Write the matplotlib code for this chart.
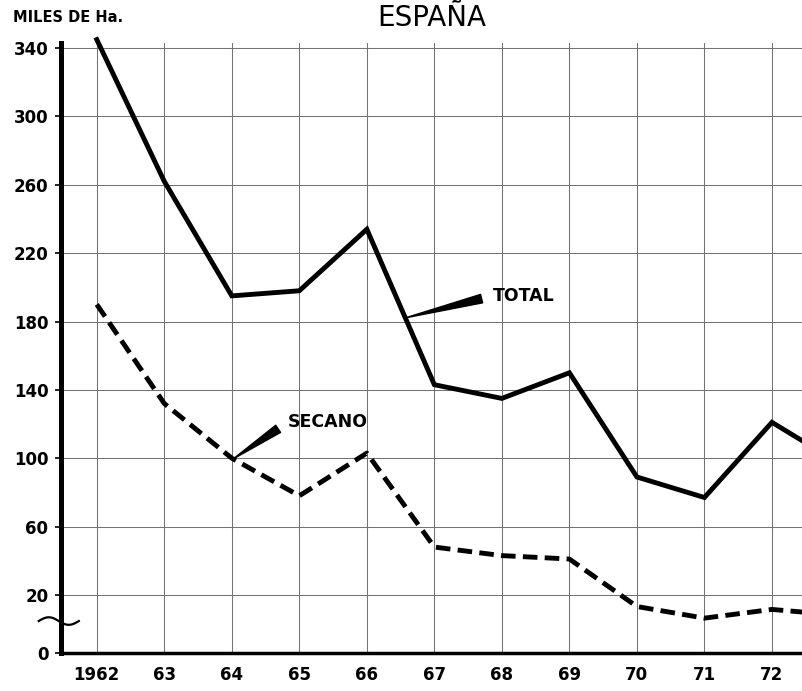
import numpy as np
import matplotlib
matplotlib.use("Agg")
import matplotlib.pyplot as plt
from matplotlib import transforms

# Superficie (miles de Ha.), lectura del gráfico
years = [1962, 1963, 1964, 1965, 1966, 1967, 1968, 1969, 1970, 1971, 1972, 1973]
total = [345, 262, 195, 198, 234, 143, 135, 150, 89, 77, 121, 97]
secano = [190, 132, 100, 78, 103, 48, 43, 41, 16, 12, 15, 13]

year_ticks = list(range(1962, 1973))
year_labels = ["1962", "63", "64", "65", "66", "67", "68", "69", "70", "71", "72"]
y_ticks = [0, 20, 60, 100, 140, 180, 220, 260, 300, 340]

# Eje cortado: entre 0 y 20 la escala está comprimida
K = 1.7


def fwd(v):
    v = np.asarray(v, dtype=float)
    return np.where(v >= 20, v, 20 - (20 - v) * K)


def inv(t):
    t = np.asarray(t, dtype=float)
    return np.where(t >= 20, t, 20 - (20 - t) / K)


fig = plt.figure(figsize=(8.03, 6.91), dpi=100)
ax = fig.add_axes([61 / 803, 38 / 691, 742 / 803, 610 / 691])
ax.set_yscale("function", functions=(fwd, inv))
ax.set_xlim(1961.47, 1972.46)
ax.set_ylim(0, 343)

ax.grid(True, color="0.45", linewidth=0.75)
ax.set_axisbelow(True)

ax.plot(years, total, color="black", linewidth=3.5, solid_joinstyle="miter",
        clip_on=False, zorder=3)
ax.plot(years, secano, color="black", linewidth=3.5, linestyle=(0, (3, 1.5)),
        dash_capstyle="butt", clip_on=False, zorder=3)

ax.set_xticks(year_ticks)
ax.set_xticklabels(year_labels)
ax.set_yticks(y_ticks)
ax.set_yticklabels([str(t) for t in y_ticks])
ax.minorticks_off()
ax.tick_params(axis="y", length=4, width=1.2, pad=5, labelsize=12)
ax.tick_params(axis="x", length=0, pad=9, labelsize=12)
for lab in ax.get_xticklabels() + ax.get_yticklabels():
    lab.set_fontweight("bold")

for s in ("top", "right"):
    ax.spines[s].set_visible(False)
ax.spines["left"].set_linewidth(3.6)
ax.spines["bottom"].set_linewidth(2.5)

# Marca de corte del eje
trans = transforms.blended_transform_factory(ax.transAxes, ax.transData)
xs = np.linspace(-0.03, 0.024, 40)
ys = 11 + 1.3 * np.sin((xs + 0.03) / 0.054 * 2 * np.pi)
ax.plot(xs, ys, color="black", linewidth=1.6, transform=trans, clip_on=False)

# Rótulos de las series
wedge = dict(arrowstyle="wedge,tail_width=0.5", fc="black", ec="black",
             relpos=(0, 0.5), shrinkA=6, shrinkB=0)
tx = 1966.57
ax.annotate("TOTAL", xy=(tx, np.interp(tx, years, total)), xytext=(1967.86, 195),
            ha="left", va="center", fontsize=12.5, fontweight="bold",
            arrowprops=wedge)
sx = 1964.02
ax.annotate("SECANO", xy=(sx, np.interp(sx, years, secano)), xytext=(1964.83, 121),
            ha="left", va="center", fontsize=12.5, fontweight="bold",
            arrowprops=wedge)

fig.text(0.538, 1 - 26 / 691, "ESPAÑA", ha="center", va="baseline", fontsize=20)
fig.text(13 / 803, 1 - 22 / 691, "MILES DE Ha.", ha="left", va="baseline",
         fontsize=10.5, fontweight="bold")

fig.savefig("out.png", dpi=100)
plt.close(fig)
